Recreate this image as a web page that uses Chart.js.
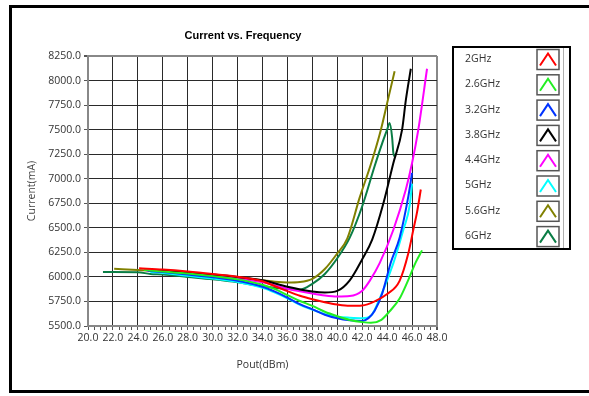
<!DOCTYPE html>
<html>
<head>
<meta charset="utf-8">
<title>Current vs. Frequency</title>
<script src="https://cdn.jsdelivr.net/npm/chart.js@4.4.1/dist/chart.umd.min.js"></script>
<style>
  html, body { margin: 0; padding: 0; background: #fff; }
  #wrap { position: relative; width: 589px; height: 396px; overflow: hidden; }
  #frame { position: absolute; left: 9px; top: 5px; width: 600px; height: 388px; border: 3px solid #000; box-sizing: border-box; }
  #myChart { position: absolute; left: 0; top: 0; }
</style>
</head>
<body>
<div id="wrap">
  <div id="frame"></div>
  <canvas id="myChart" width="589" height="396"></canvas>
</div>
<script>
// axis ranges
const xMin = 20, xMax = 48, xStep = 0.5, xLabelStep = 2;
const yMin = 5500, yMax = 8250, yStep = 250;

const chartTitle = 'Current vs. Frequency';
const xTitle = 'Pout(dBm)';
const yTitle = 'Current(mA)';

// series names (frequency)
const seriesNames = ['2GHz', '2.6GHz', '3.2GHz', '3.8GHz', '4.4GHz', '5GHz', '5.6GHz', '6GHz'];

// [Pout dBm, current mA]
const s2GHz = [[24.1, 6088], [26, 6075], [28, 6055], [30, 6030], [32, 6002], [34, 5955], [35, 5905], [36, 5855],
  [37, 5808], [38, 5772], [39, 5742], [40, 5718], [41, 5705], [42, 5708], [43, 5750], [44, 5825], [45, 5960],
  [45.7, 6240], [46.1, 6480], [46.4, 6660], [46.7, 6890]];
const s2_6GHz = [[24.5, 6070], [26, 6055], [28, 6035], [30, 6008], [32, 5975], [34, 5920], [35, 5875], [36, 5815],
  [37, 5755], [38, 5705], [39, 5645], [40, 5600], [41, 5562], [42, 5540], [42.7, 5532], [43.5, 5560], [44.2, 5650],
  [45, 5780], [45.7, 5970], [46.3, 6150], [46.8, 6270]];
const s3_2GHz = [[24.8, 6062], [26, 6050], [28, 6025], [30, 5997], [32, 5960], [34, 5900], [35, 5850], [36, 5790],
  [37, 5722], [38, 5670], [39, 5615], [40, 5578], [41, 5558], [42, 5552], [42.5, 5580], [43, 5655], [43.6, 5830],
  [44.3, 6150], [45, 6400], [45.7, 6820], [46, 7060]];
const s3_8GHz = [[25.5, 6068], [26, 6065], [28, 6045], [30, 6025], [32, 6000], [34, 5965], [36, 5900], [38, 5852],
  [39, 5842], [40, 5858], [41, 5965], [42, 6180], [42.8, 6380], [43.7, 6750], [44.5, 7160], [45.2, 7500],
  [45.5, 7800], [45.9, 8120]];
const s4_4GHz = [[24.7, 6060], [26, 6060], [28, 6040], [30, 6015], [32, 5985], [34, 5945], [36, 5880], [38, 5830],
  [39, 5810], [40, 5800], [41, 5805], [42, 5860], [42.6, 5960], [43.4, 6140], [44.5, 6480], [45.5, 6890],
  [46, 7160], [46.5, 7500], [47.2, 8120]];
const s5GHz = [[25, 6050], [26, 6040], [28, 6012], [30, 5983], [32, 5948], [34, 5888], [35, 5840], [36, 5782],
  [37, 5715], [38, 5668], [39, 5620], [40, 5595], [41, 5585], [42, 5580], [42.7, 5605], [43.5, 5810], [44.5, 6140],
  [45.3, 6480], [45.8, 6720], [46, 6950]];
const s5_6GHz = [[22.1, 6082], [24, 6071], [26, 6055], [28, 6040], [30, 6020], [32, 5995], [34, 5965], [35, 5950],
  [36, 5943], [37, 5948], [38, 5980], [39, 6080], [40, 6240], [40.8, 6390], [41.8, 6810], [42.7, 7150],
  [43.5, 7500], [44, 7770], [44.6, 8095]];
const s6GHz = [[21.2, 6050], [22, 6050], [24, 6048], [25, 6030], [26, 6025], [28, 6000], [30, 5975], [32, 5945],
  [34, 5905], [36, 5878], [37, 5870], [38, 5930], [39, 6030], [40, 6190], [41, 6400], [42, 6720], [43, 7130],
  [43.6, 7360], [44, 7500], [44.2, 7568], [44.4, 7420], [44.5, 7260], [44.6, 7225]];

const seriesData = [s2GHz, s2_6GHz, s3_2GHz, s3_8GHz, s4_4GHz, s5GHz, s5_6GHz, s6GHz];
const seriesColors = ['#ff0000', '#22ee22', '#0033ff', '#000000', '#ff00ff', '#00ffff', '#808000', '#0a7d45'];

const tickFont = { family: '"Open Sans", "Liberation Sans", sans-serif', size: 10.5 };

const datasets = seriesNames.map((name, i) => ({
  label: name,
  data: seriesData[i].map(p => ({ x: p[0], y: p[1] })),
  borderColor: seriesColors[i],
  backgroundColor: seriesColors[i],
  showLine: true,
  fill: false
}));

// title and legend box drawn on the canvas
const decor = {
  id: 'decor',
  afterDraw(chart) {
    const c = chart.ctx;
    c.save();
    c.fillStyle = '#000';
    c.font = 'bold 11px "Liberation Sans", Arial, sans-serif';
    c.textAlign = 'center';
    c.textBaseline = 'middle';
    c.fillText(chartTitle, 243, 36);

    // legend frame
    c.strokeStyle = '#000';
    c.lineWidth = 2;
    c.strokeRect(453, 47, 117, 202);
    c.strokeStyle = '#b0b0b0';
    c.lineWidth = 1;
    c.beginPath();
    c.moveTo(563.5, 48);
    c.lineTo(563.5, 248);
    c.stroke();

    c.font = '10.5px "Open Sans", "Liberation Sans", sans-serif';
    c.textAlign = 'left';
    chart.data.datasets.forEach((ds, i) => {
      const top = 49.5 + i * 25.3;
      c.fillStyle = '#333';
      c.fillText(ds.label, 465, top + 9.5);
      c.fillStyle = '#fff';
      c.fillRect(537, top, 22, 20);
      c.strokeStyle = '#555';
      c.lineWidth = 1.5;
      c.strokeRect(537, top, 22, 20);
      c.strokeStyle = ds.borderColor;
      c.lineWidth = 2;
      c.beginPath();
      c.moveTo(540, top + 16);
      c.lineTo(548, top + 4);
      c.lineTo(556, top + 16);
      c.stroke();
    });
    c.restore();
  }
};

const ctx = document.getElementById('myChart');

new Chart(ctx, {
  type: 'scatter',
  data: { datasets: datasets },
  options: {
    responsive: false,
    animation: false,
    layout: { padding: { left: 22, right: 152, top: 56, bottom: 25 } },
    elements: {
      point: { radius: 0 },
      line: { borderWidth: 2, cubicInterpolationMode: 'monotone' }
    },
    plugins: {
      legend: { display: false },
      title: { display: false },
      tooltip: { enabled: false }
    },
    scales: {
      x: {
        type: 'linear',
        min: xMin,
        max: xMax,
        afterFit(s) { s.height = 45; },
        ticks: {
          stepSize: xStep,
          autoSkip: false,
          maxRotation: 0,
          padding: 2,
          color: '#333',
          font: tickFont,
          callback: v => (v % xLabelStep === 0 ? v.toFixed(1) : '')
        },
        grid: {
          color: c => (c.tick && c.tick.value % xLabelStep === 0 ? (c.tick.value === xMax ? '#888' : '#2a2a2a') : 'rgba(0,0,0,0)'),
          lineWidth: c => (c.tick && c.tick.value === xMax ? 2 : 1),
          tickLength: 4,
          tickColor: '#555'
        },
        border: { color: '#888', width: 2 },
        title: { display: true, text: xTitle, color: '#333', font: tickFont, padding: { top: 7, bottom: 0 } }
      },
      y: {
        min: yMin,
        max: yMax,
        afterFit(s) { s.width = 66; },
        ticks: {
          stepSize: yStep,
          padding: 3,
          color: '#333',
          font: tickFont,
          callback: v => v.toFixed(1)
        },
        grid: {
          color: c => (c.tick && c.tick.value === yMax ? '#888' : '#2a2a2a'),
          lineWidth: c => (c.tick && c.tick.value === yMax ? 2 : 1),
          tickLength: 4,
          tickColor: '#555'
        },
        border: { color: '#888', width: 2 },
        title: { display: true, text: yTitle, color: '#444', font: tickFont, padding: { top: 4, bottom: 2 } }
      }
    }
  },
  plugins: [decor]
});
</script>
</body>
</html>
